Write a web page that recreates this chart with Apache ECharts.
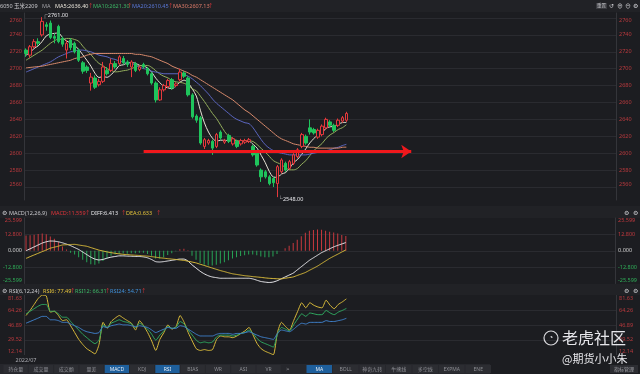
<!DOCTYPE html>
<html><head><meta charset="utf-8">
<script src="https://cdn.jsdelivr.net/npm/echarts@6/dist/echarts.min.js"></script>
<style>html,body{margin:0;padding:0;background:#1c1d21;}#c{width:640px;height:374px;}</style>
</head><body><div id="c"></div>
<script>
// ---------- data ----------
const slotCount = 146;
const dateLabels = ['2022/07'];
const opens = [2722,2716,2726,2732,2740,2752,2754,2738,2750,2736,
 2722,2734,2730,2722,2707,2702,2683,2689,2681,2685,
 2698,2698,2706,2706,2712,2708,2702,2706,2699,2705,
 2700,2694,2683,2663,2675,2679,2687,2680,2687,2695,
 2689,2669,2644,2642,2608,2612,2614,2608,2625,2613,
 2621,2611,2614,2611,2613,2614,2608,2600,2580,2578,
 2572,2570,2564,2578,2588,2582,2588,2596,2608,2620,
 2630,2628,2619,2622,2630,2637,2633,2633,2638,2639];
const closes = [2718,2726,2732,2730,2756,2750,2737,2736,2732,2729,
 2730,2725,2720,2710,2697,2698,2690,2678,2685,2702,
 2694,2706,2702,2714,2707,2705,2708,2698,2702,2702,
 2694,2683,2663,2675,2680,2686,2677,2682,2696,2691,
 2669,2643,2639,2612,2616,2615,2606,2622,2618,2615,
 2614,2617,2608,2615,2615,2616,2598,2586,2572,2572,
 2564,2565,2584,2592,2580,2590,2598,2604,2622,2612,
 2625,2624,2627,2632,2640,2633,2627,2639,2642,2647];
const lows = [2714,2713,2724,2727,2738,2745,2735,2730,2730,2726,
 2712,2722,2718,2708,2694,2695,2674,2676,2679,2683,
 2692,2696,2700,2704,2705,2702,2690,2696,2697,2700,
 2692,2681,2660,2662,2673,2677,2675,2678,2685,2689,
 2667,2641,2636,2610,2605,2610,2598,2606,2616,2611,
 2612,2609,2606,2609,2611,2612,2596,2584,2566,2570,
 2562,2560,2548,2576,2578,2580,2586,2594,2606,2610,
 2622,2622,2617,2620,2628,2631,2625,2631,2636,2637];
const highs = [2724,2728,2735,2736,2761,2755,2757,2742,2752,2738,
 2734,2736,2732,2724,2709,2704,2695,2692,2688,2708,
 2702,2712,2709,2716,2715,2710,2710,2708,2704,2707,
 2702,2696,2685,2678,2682,2688,2689,2684,2700,2697,
 2691,2671,2646,2644,2618,2617,2616,2624,2627,2617,
 2623,2619,2616,2617,2617,2618,2610,2602,2582,2580,
 2574,2572,2586,2594,2590,2592,2600,2606,2624,2622,
 2640,2630,2629,2634,2642,2639,2635,2641,2644,2649];
const ma5 = [2716,2719,2724,2727,2732.4,2738.8,2741,2741.8,2742.2,2736.8,
 2732.8,2730.4,2727.2,2722.8,2716.4,2710,2703,2694.6,2689.6,2690.6,
 2689.8,2693,2697.8,2703.6,2704.6,2706.8,2707.2,2706.4,2704,2703,
 2700.8,2695.8,2688.8,2683.4,2679,2677.4,2676.2,2680,2684.2,2686.4,
 2683,2676.2,2667.6,2650.8,2635.8,2625,2617.6,2614.2,2615.4,2615.2,
 2615,2617.2,2614.4,2613.8,2613.8,2614.2,2610.4,2606,2597.4,2588.8,
 2578.4,2571.8,2571.4,2575.4,2577,2582.2,2588.8,2592.8,2598.8,2605.2,
 2612.2,2617.4,2622,2624,2629.6,2631.2,2631.8,2634.2,2636.2,2636.4];
const ma10 = [2710,2713,2716,2719,2722,2726,2730,2733,2735,2734.6,
 2735.8,2735.7,2734.5,2732.5,2726.6,2721.4,2716.7,2710.9,2706.2,2703.5,
 2699.9,2698,2696.2,2696.6,2697.6,2698.3,2700.1,2702.1,2703.8,2703.8,
 2703.8,2701.5,2697.6,2693.7,2691,2689.1,2686,2684.4,2683.8,2682.7,
 2680.2,2676.2,2673.8,2667.5,2661.1,2654,2646.9,2640.9,2633.1,2625.5,
 2620,2617.4,2614.3,2614.6,2614.5,2614.6,2613.8,2610.2,2605.6,2601.3,
 2596.3,2591.1,2588.7,2586.4,2582.9,2580.3,2580.3,2582.1,2587.1,2591.1,
 2597.2,2603.1,2607.4,2611.4,2617.4,2621.7,2624.6,2628.1,2630.1,2633.6];
const ma20 = [2696,2698,2700,2702,2704,2706,2708,2711,2714,2716,
 2718,2720,2721,2722,2722,2721,2720,2718,2716,2715,
 2714,2712,2711,2709,2708,2707,2706,2704,2702,2700,
 2699,2697,2696,2695,2694,2694,2694,2694,2694,2693,
 2691,2688,2684,2680,2675,2670,2664,2659,2655,2651,
 2647,2643,2640,2638,2636,2635,2630,2623,2616,2610,
 2606,2603,2601,2600,2599,2598,2598,2598,2598,2598,
 2599,2600,2601,2602,2603,2604,2606,2607,2609,2610.45];
const ma30 = [2701,2701.5,2702,2702.5,2703,2704,2705,2706,2707,2708,
 2709,2710,2712,2713,2714,2716,2717,2718,2718,2718,
 2718,2718,2718,2718,2718,2718,2718,2717,2717,2716,
 2715,2714,2712,2710,2708,2706,2703,2701,2699,2697,
 2695,2692,2690,2687,2684,2681,2678,2675,2672,2669,
 2666,2663,2659,2655,2651,2648,2644,2640,2636,2632,
 2628,2624,2620,2617,2615,2613,2611,2610,2609,2608,
 2607,2607,2606,2606,2606,2606,2606,2606,2607,2607.13];
const macdHist = [12,12.2,12.6,13,13.4,12.8,11.2,9.4,6.8,3.4,
 1,-1.5,-3,-5,-7,-9,-10.5,-11,-10,-8,
 -6,-4,-3,-2.4,-2.2,-2.4,-2,-2,-1.6,-1.6,
 -2.6,-4,-6,-6,-5,-3.4,-2,-0.4,1.2,1.6,
 0.4,-4,-7,-9.5,-11,-11.5,-11.5,-11,-10,-9,
 -7.5,-6,-5,-4.2,-3.6,-3,-3,-3.5,-4.5,-5,
 -5,-4.4,-2.6,0,2,4,6,8.6,11.4,14,
 15.6,16.2,16.6,16.4,15.6,14.8,14.2,13.4,12.4,11.559];
const diff = [0,1.5,3,4.5,6,7,7.6,7.5,7,6.2,
 5.2,4,2.5,1,-1,-3,-5,-6.5,-7.2,-6.8,
 -5.8,-5,-4.5,-4,-4,-4.2,-4.3,-4.5,-4.5,-4.8,
 -5.5,-6.8,-8.5,-8.8,-8.5,-8,-7.5,-7,-6.5,-6.5,
 -8,-11,-13.5,-16,-18,-19.5,-20.5,-21,-21.5,-21.5,
 -21.5,-21.5,-21.5,-21.5,-21.5,-21.5,-22,-23,-24,-24.5,
 -24.8,-24.5,-23.5,-22,-20.5,-19,-17.5,-15,-12.5,-10,
 -7.5,-5.5,-3.5,-1.5,0,1.5,3,4.2,5.3,6.413];
const dea = [-6,-4.6,-3.3,-2,-0.7,0.6,2,2.8,3.6,4.5,
 4.7,4.9,5,4.5,4,3.5,2.5,1.5,0.5,-0.2,
 -0.9,-1.5,-2,-2.4,-2.8,-3,-3.3,-3.5,-3.7,-4,
 -4.2,-4.6,-5,-5.5,-5.8,-6.2,-6.5,-6.8,-7.2,-7.5,
 -8.2,-8.8,-9.5,-10.5,-11.5,-12.5,-13.5,-14.5,-15.5,-16.3,
 -17.2,-18,-18.5,-19,-19.5,-19.8,-20.2,-20.5,-20.8,-21.2,
 -21.5,-21.7,-21.9,-22,-21.5,-21,-20.5,-19.3,-18.2,-17,
 -15.3,-13.7,-12,-10,-8,-6,-4.3,-2.7,-1,0.633];
const rsi6 = [58,64,71,78,82,81,62,63,58,52,
 53,46,38,30,24,19,16,13,24,50,
 43,51,55,58,55,52,49,41,52,46,
 38,28,17,30,38,47,42,45,58,50,
 38,28,19,17,18,17,18,30,34,33,
 33,32,34,37,40,44,35,25,19,16,
 14,12,38,50,45,41,52,63,73,67,
 73,70,68,67,76,70,66,71,74,77.49];
const rsi12 = [60,63,66,69,71,71,63,63,60,56,
 56,51,46,41,36,32,28,25,29,47,
 44,49,51,53,51,50,48,44,49,46,
 42,36,29,35,40,45,43,44,51,48,
 41,35,29,26,27,26,27,33,35,35,
 35,34,35,37,38,41,37,31,27,25,
 23,21,36,44,42,40,47,54,60,57,
 61,60,59,59,64,61,59,62,64,66.31];
const rsi24 = [49,51,53,55,57,57,53,53,52,50,
 50,48,46,44,41,39,38,37,38,45,
 44,46,47,48,47,47,46,45,46,45,
 44,41,38,40,42,44,43,43,46,45,
 42,39,36,34,34,34,34,36,37,37,
 37,36,37,37,38,39,37,35,33,32,
 31,30,37,41,40,39,42,46,49,48,
 50,50,50,50,52,51,51,52,53,54.71];
const priceTicks = [2560,2580,2600,2620,2640,2660,2680,2700,2720,2740,2760];
const macdTicks = [-25.599,-12.8,0,12.8,25.599];
const rsiTicks = [12.14,29.52,46.89,64.26,81.63];
const arrowLevel = 2602;

// ---------- build ----------
const categories = Array.from({length: slotCount}, (_, i) => 'k' + i);
const kData = opens.map((o, i) => [o, closes[i], lows[i], highs[i]]);
const hiIdx = highs.indexOf(Math.max(...highs));
const loIdx = lows.indexOf(Math.min(...lows));

const FONT = '"Noto Sans", "Noto Sans CJK SC", sans-serif';
const RED = '#b8393d', GRID = '#2a2b30', AXIS = '#34353a';

const grids = [
  {left: 24, right: 24, top: 13, height: 187},
  {left: 24, right: 24, top: 218, height: 65.5},
  {left: 24, right: 24, top: 295.4, height: 59.2}
];
const xAxes = grids.map((g, gi) => ({
  type: 'category', gridIndex: gi, data: categories, boundaryGap: true,
  axisLine: {show: false}, axisTick: {show: false}, splitLine: {show: false},
  axisLabel: gi === 2 ? {show: true, interval: 0, color: '#a9aab0', fontSize: 5.5, fontFamily: FONT, margin: 3,
    formatter: (v, idx) => idx < dateLabels.length ? dateLabels[idx] : ''} : {show: false}
}));
function yPair(gi, min, max, ticks, fmt, colorFn, splitTicks) {
  const base = {
    type: 'value', gridIndex: gi, min, max, scale: true,
    axisLine: {show: true, lineStyle: {color: AXIS}},
    axisTick: {show: false, customValues: splitTicks},
    splitLine: {show: false},
    axisLabel: {customValues: ticks, fontSize: 5.5, fontFamily: FONT, formatter: fmt, color: colorFn,
      verticalAlignMinLabel: 'bottom', verticalAlignMaxLabel: 'top'}
  };
  return [
    Object.assign({}, base, {position: 'left', splitLine: {show: true, lineStyle: {color: GRID, width: 1}},
      axisLabel: Object.assign({}, base.axisLabel, {margin: 2})}),
    Object.assign({}, base, {position: 'right', axisLabel: Object.assign({}, base.axisLabel, {margin: 3})})
  ];
}
const yAxes = [].concat(
  yPair(0, 2544.6, 2765.9, priceTicks, v => String(Math.round(v)), () => RED, priceTicks),
  yPair(1, -25.599, 25.599, macdTicks, v => v.toFixed(3), v => v > 0.001 ? '#c0393e' : (v < -0.001 ? '#2fae58' : '#d0d0d0'), [-12.8, 0, 12.8]),
  yPair(2, 12.14, 81.63, rsiTicks, v => v.toFixed(2), () => RED, [29.52, 46.89, 64.26])
);

function maLine(name, data, color) {
  return {name, type: 'line', xAxisIndex: 0, yAxisIndex: 0, data, symbol: 'none', smooth: 0.3,
    lineStyle: {width: 1, color}, z: 3, silent: true};
}
function subLine(name, data, color, xi, yi) {
  return {name, type: 'line', xAxisIndex: xi, yAxisIndex: yi, data, symbol: 'none', smooth: 0.2,
    lineStyle: {width: 1, color}, silent: true};
}

// chrome: header bars, tabs, watermark
const hdrY = 6, macdY = 213, rsiY = 291;
function txt(x, y, text, fill, size, extra) {
  return Object.assign({type: 'text', x, y, silent: true, z: 50,
    style: {text, fill, font: (size || 5.5) + 'px ' + FONT, textVerticalAlign: 'middle'}}, extra || {});
}
const graphics = [
  {type: 'rect', shape: {x: 0, y: 0, width: 640, height: 12}, style: {fill: '#212226'}, z: -1, silent: true},
  {type: 'rect', shape: {x: 0, y: 206, width: 640, height: 12}, style: {fill: '#212226'}, z: -1, silent: true},
  {type: 'rect', shape: {x: 0, y: 284, width: 640, height: 11}, style: {fill: '#212226'}, z: -1, silent: true},
  txt(0, hdrY, '6050 玉米2209', '#c8c8cc'),
  txt(42, hdrY, 'MA', '#a0a0a6'),
  txt(55, hdrY, 'MA5:2636.40', '#e6e2d8'), txt(88, hdrY, '↑', '#e0343a'),
  txt(93, hdrY, 'MA10:2621.30', '#3cb866'), txt(127, hdrY, '↑', '#e0343a'),
  txt(132, hdrY, 'MA20:2610.45', '#5a78d8'), txt(168, hdrY, '↑', '#e0343a'),
  txt(173, hdrY, 'MA30:2607.13', '#e07c6a'), txt(208, hdrY, '↑', '#e0343a'),
  {type: 'rect', shape: {x: 596, y: 3, width: 11, height: 6}, style: {fill: '#3a3b40'}, z: 49, silent: true},
  txt(597, hdrY, '重置', '#c0c0c4', 4.5),
  txt(609, hdrY, '↺', '#d0d0d4', 6), txt(617, hdrY, '⊕', '#d0d0d4', 6),
  txt(625, hdrY, '⊖', '#d0d0d4', 6), txt(633, hdrY, '⚙', '#d0d0d4', 6),
  txt(2, macdY, '⚙', '#c8c8cc', 6),
  txt(9, macdY, 'MACD(12,26,9)', '#c8c8cc'),
  txt(51, macdY, 'MACD:11.559', '#e0343a'), txt(85, macdY, '↑', '#e0343a'),
  txt(91, macdY, 'DIFF:6.413', '#e8e8ec'), txt(121, macdY, '↑', '#e0343a'),
  txt(126, macdY, 'DEA:0.633', '#e3c23a'), txt(156, macdY, '↑', '#e0343a'),
  txt(624, macdY, '⚙', '#c8c8cc', 6), txt(633, macdY, '⚙', '#c8c8cc', 6),
  txt(2, rsiY, '⚙', '#c8c8cc', 6),
  txt(9, rsiY, 'RSI(6,12,24)', '#c8c8cc'),
  txt(43, rsiY, 'RSI6: 77.49', '#e3c23a'), txt(70, rsiY, '↑', '#e0343a'),
  txt(75, rsiY, 'RSI12: 66.31', '#3cb866'), txt(105, rsiY, '↑', '#e0343a'),
  txt(110, rsiY, 'RSI24: 54.71', '#3f8fd8'), txt(141, rsiY, '↑', '#e0343a'),
  txt(624, rsiY, '⚙', '#c8c8cc', 6), txt(633, rsiY, '⚙', '#c8c8cc', 6),
  {type: 'rect', shape: {x: 0, y: 364, width: 490, height: 10}, style: {fill: '#26272c'}, z: 40, silent: true}
];
const tabsA = ['持仓量','成交量','成交额','量差','MACD','KDJ','RSI','BIAS','WR','ASI','VR'];
const tabsB = ['MA','BOLL','神奇九转','牛熊线','多空线','EXPMA','ENE'];
const activeTabs = ['MACD','RSI','MA'];
function addTabs(list, x0, w) {
  list.forEach((t, i) => {
    const x = x0 + i * w, on = activeTabs.includes(t);
    graphics.push({type: 'rect', shape: {x: x + 0.5, y: 365, width: w - 1, height: 8},
      style: {fill: on ? '#1e5f9c' : '#2c2d32'}, z: 41, silent: true});
    graphics.push({type: 'text', x: x + w / 2, y: 369.5, silent: true, z: 42,
      style: {text: t, fill: on ? '#e8eef6' : '#8d8e94', font: '5px ' + FONT, textAlign: 'center', textVerticalAlign: 'middle'}});
  });
}
addTabs(tabsA, 3, 25.3);
graphics.push(txt(286, 369.5, '>', '#b0b0b4', 6));
addTabs(tabsB, 306, 26.5);
graphics.push({type: 'rect', shape: {x: 610, y: 365, width: 28, height: 8}, style: {fill: '#2c2d32'}, z: 41, silent: true});
graphics.push({type: 'text', x: 624, y: 369.5, silent: true, z: 42,
  style: {text: '指标管理', fill: '#a0a0a6', font: '5px ' + FONT, textAlign: 'center', textVerticalAlign: 'middle'}});
// watermark
graphics.push({type: 'circle', shape: {cx: 551, cy: 338, r: 7}, style: {fill: 'none', stroke: '#d8d8dc', lineWidth: 1.2}, z: 60, silent: true});
graphics.push({type: 'text', x: 551, y: 338, silent: true, z: 60,
  style: {text: '◔', fill: '#d8d8dc', font: '8px ' + FONT, textAlign: 'center', textVerticalAlign: 'middle'}});
graphics.push({type: 'text', x: 562, y: 338, silent: true, z: 60,
  style: {text: '老虎社区', fill: '#e6e6ea', font: '16px "Noto Sans CJK SC"', textVerticalAlign: 'middle'}});
graphics.push({type: 'text', x: 562, y: 359, silent: true, z: 60,
  style: {text: '@期货小小朱', fill: '#e6e6ea', font: '11px "Noto Sans CJK SC"', textVerticalAlign: 'middle'}});

const option = {
  backgroundColor: '#1c1d21',
  animation: false,
  textStyle: {fontFamily: FONT},
  grid: grids,
  xAxis: xAxes,
  yAxis: yAxes,
  graphic: graphics,
  series: [
    {name: 'K', type: 'candlestick', xAxisIndex: 0, yAxisIndex: 0, data: kData, barWidth: 3,
      itemStyle: {color: '#1c1d21', color0: '#1fc45c', borderColor: '#e5393c', borderColor0: '#1fc45c', borderWidth: 1},
      z: 4,
      markLine: {silent: true, symbol: ['none', 'arrow'], symbolSize: 10, symbolOffset: 0, label: {show: false},
        lineStyle: {color: '#f0181c', width: 3, type: 'solid'},
        emphasis: {disabled: true},
        data: [[{coord: [29, arrowLevel], symbol: 'none'}, {coord: [95, arrowLevel], symbol: 'arrow', symbolSize: 10}]]},
      markPoint: {silent: true, symbol: 'circle', symbolSize: 0.1,
        itemStyle: {color: 'transparent'},
        label: {show: true, position: 'right', distance: 0, color: '#e8e8ec', fontSize: 5.5, fontFamily: FONT},
        data: [
          {coord: [hiIdx, highs[hiIdx]], value: highs[hiIdx], label: {formatter: '┌' + highs[hiIdx].toFixed(2), offset: [0, -2]}},
          {coord: [loIdx, lows[loIdx]], value: lows[loIdx], label: {formatter: '└' + lows[loIdx].toFixed(2), offset: [0, 2]}}
        ]}
    },
    maLine('MA5', ma5, '#e8e3d6'),
    maLine('MA10', ma10, '#93ad5c'),
    maLine('MA20', ma20, '#5b66c0'),
    maLine('MA30', ma30, '#d88a6c'),
    {name: 'MACD', type: 'bar', xAxisIndex: 1, yAxisIndex: 2, barWidth: 1, silent: true,
      data: macdHist.map(v => ({value: v, itemStyle: {color: v >= 0 ? '#c8393e' : '#27a456'}}))},
    subLine('DIFF', diff, '#e6e6ea', 1, 2),
    subLine('DEA', dea, '#d7b93a', 1, 2),
    subLine('RSI6', rsi6, '#d7b93a', 2, 4),
    subLine('RSI12', rsi12, '#2fa860', 2, 4),
    subLine('RSI24', rsi24, '#3f7fc8', 2, 4)
  ]
};
echarts.init(document.getElementById('c')).setOption(option);
</script></body></html>
